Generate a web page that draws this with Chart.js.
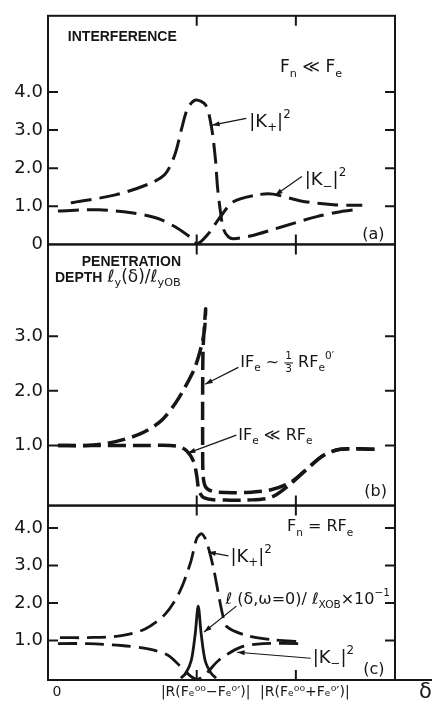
<!DOCTYPE html>
<html>
<head>
<meta charset="utf-8">
<script src="https://cdn.jsdelivr.net/npm/chart.js@4"></script>
<style>
  html, body { margin: 0; padding: 0; background: #fff; }
  canvas { display: block; }
</style>
</head>
<body>
<canvas id="fig" width="432" height="707"></canvas>
<script>
// delta axis, in arbitrary units (the two resonance ticks sit at 1.5 and 2.5)
const xTicks = [0, 1.5, 2.5];
const xTickLabels = ['0', '|R(Fₑ⁰⁰−Fₑ⁰′)|', '|R(Fₑ⁰⁰+Fₑ⁰′)|'];

const yTicksA = [0, 1, 2, 3, 4];
const yTicksB = [1, 2, 3];
const yTicksC = [1, 2, 3, 4];

// (a) interference, Fn << Fe
const aKplusX  = [0.23, 0.68, 1.01, 1.18, 1.28, 1.35, 1.41, 1.49, 1.59, 1.65, 1.69, 1.71, 1.74, 1.77, 1.82, 1.87, 2.04, 2.37, 2.71, 2.95, 3.10];
const aKplusY  = [1.09, 1.30, 1.58, 1.84, 2.36, 3.06, 3.58, 3.79, 3.66, 3.06, 2.20, 1.50, 0.85, 0.40, 0.20, 0.15, 0.22, 0.47, 0.73, 0.86, 0.91];
const aKminusX = [0.10, 0.51, 0.84, 1.11, 1.31, 1.45, 1.51, 1.62, 1.74, 1.87, 2.11, 2.27, 2.55, 2.88, 3.17];
const aKminusY = [0.88, 0.91, 0.83, 0.68, 0.42, 0.16, 0.02, 0.29, 0.73, 1.12, 1.30, 1.32, 1.14, 1.04, 1.03];

// (b) penetration depth ly(delta)/lyOB
const bThirdX = [0.10, 0.40, 0.68, 0.94, 1.14, 1.28, 1.38, 1.48, 1.55, 1.58, 1.59, 1.565, 1.56, 1.56, 1.565, 1.59, 1.66, 1.80, 2.00, 2.25, 2.45, 2.60, 2.78, 2.95, 3.32];
const bThirdY = [1.00, 1.00, 1.07, 1.22, 1.45, 1.76, 2.06, 2.42, 2.84, 3.14, 3.50, 2.80, 2.00, 1.00, 0.45, 0.24, 0.16, 0.14, 0.14, 0.19, 0.33, 0.55, 0.82, 0.93, 0.93];
const bMuchX  = [0.10, 0.50, 1.00, 1.30, 1.40, 1.47, 1.50, 1.52, 1.56, 1.65, 1.80, 2.00, 2.25, 2.45, 2.60, 2.78, 2.95, 3.32];
const bMuchY  = [1.00, 1.00, 1.00, 0.99, 0.90, 0.70, 0.45, 0.20, 0.06, 0.01, 0.00, 0.00, 0.05, 0.30, 0.55, 0.82, 0.93, 0.93];

// (c) Fn = RFe
const cKplusX  = [0.12, 0.40, 0.74, 0.98, 1.18, 1.33, 1.44, 1.50, 1.55, 1.60, 1.67, 1.72, 1.76, 1.80, 2.01, 2.27, 2.55];
const cKplusY  = [1.08, 1.08, 1.13, 1.31, 1.70, 2.31, 3.10, 3.72, 3.85, 3.63, 2.92, 2.23, 1.71, 1.38, 1.13, 1.02, 0.97];
const cKminusX = [0.10, 0.40, 0.74, 1.01, 1.21, 1.34, 1.45, 1.51, 1.60, 1.72, 1.94, 2.17, 2.55];
const cKminusY = [0.92, 0.92, 0.87, 0.78, 0.61, 0.30, 0.03, -0.03, 0.13, 0.47, 0.82, 0.92, 0.92];
const cLX = [1.34, 1.39, 1.445, 1.485, 1.515, 1.545, 1.585, 1.645, 1.695];
const cLY = [0.00, 0.13, 0.47, 1.18, 1.92, 1.18, 0.47, 0.13, 0.00];

const ink = '#161616';
const mathFont = '"DejaVu Sans"';
const capsFont = '"Liberation Sans"';

const pts = (xs, ys) => xs.map((x, i) => ({ x: x, y: ys[i] }));

function curve(xs, ys, axis, width, dash) {
    return {
        data: pts(xs, ys),
        yAxisID: axis,
        borderColor: ink,
        borderWidth: width,
        borderDash: dash,
        borderCapStyle: 'butt',
        tension: 0.3,
        pointRadius: 0,
        fill: false
    };
}

function yAxis(min, max, weight, ticks) {
    return {
        type: 'linear',
        position: 'left',
        stack: 'panels',
        stackWeight: weight,
        min: min,
        max: max,
        afterBuildTicks: s => { s.ticks = ticks.map(v => ({ value: v })); },
        afterFit: s => { s.width = 48; },
        grid: { display: false, drawTicks: false },
        border: { display: false },
        ticks: {
            callback: v => v === 0 ? '0' : v.toFixed(1),
            font: { family: mathFont, size: 18 },
            color: ink,
            padding: 5
        }
    };
}

// texts and pointer arrows, placed in the data units of each panel
const notes = [
    { axis: 'ya', x: 0.20, y: 5.43, font: capsFont, size: 14, weight: 'bold', parts: [['INTERFERENCE']] },
    { axis: 'ya', x: 2.34, y: 4.63, size: 17, parts: [['F'], ['n', 'sub'], [' ≪ F'], ['e', 'sub']] },
    { axis: 'ya', x: 2.03, y: 3.21, size: 18, parts: [['|K'], ['+', 'sub'], ['|'], ['2', 'sup']] },
    { axis: 'ya', x: 2.59, y: 1.68, size: 18, parts: [['|K'], ['−', 'sub'], ['|'], ['2', 'sup']] },
    { axis: 'ya', x: 3.17, y: 0.26, size: 16, parts: [['(a)']] },

    { axis: 'yb', x: 0.34, y: 4.36, font: capsFont, size: 14, weight: 'bold', parts: [['PENETRATION']] },
    { axis: 'yb', x: 0.07, y: 4.07, font: capsFont, size: 14, weight: 'bold', parts: [['DEPTH']] },
    { axis: 'yb', x: 0.60, y: 4.07, size: 17, parts: [['ℓ'], ['y', 'sub'], ['(δ)/'], ['ℓ'], ['yOB', 'sub']] },
    { axis: 'yb', x: 1.94, y: 2.52, size: 16, parts: [['IF'], ['e', 'sub'], [' ~ '], ['1/3', 'frac'], [' RF'], ['e', 'sub'], ['0′', 'sup']] },
    { axis: 'yb', x: 1.92, y: 1.18, size: 16, parts: [['IF'], ['e', 'sub'], [' ≪ RF'], ['e', 'sub']] },
    { axis: 'yb', x: 3.19, y: 0.15, size: 16, parts: [['(b)']] },

    { axis: 'yc', x: 2.41, y: 4.02, size: 16, parts: [['F'], ['n', 'sub'], [' = RF'], ['e', 'sub']] },
    { axis: 'yc', x: 1.84, y: 3.23, size: 18, parts: [['|K'], ['+', 'sub'], ['|'], ['2', 'sup']] },
    { axis: 'yc', x: 1.79, y: 2.10, size: 16, parts: [['ℓ (δ,ω=0)/ ℓ'], ['XOB', 'sub'], ['×10'], ['−1', 'sup']] },
    { axis: 'yc', x: 2.67, y: 0.53, size: 18, parts: [['|K'], ['−', 'sub'], ['|'], ['2', 'sup']] },
    { axis: 'yc', x: 3.18, y: 0.21, size: 16, parts: [['(c)']] }
];

const arrows = [
    { axis: 'ya', from: [2.00, 3.31], to: [1.655, 3.13] },
    { axis: 'ya', from: [2.56, 1.78], to: [2.29, 1.29] },
    { axis: 'yb', from: [1.92, 2.43], to: [1.584, 2.12] },
    { axis: 'yb', from: [1.90, 1.19], to: [1.41, 0.86] },
    { axis: 'yc', from: [1.82, 3.26], to: [1.615, 3.36] },
    { axis: 'yc', from: [1.90, 1.92], to: [1.574, 1.23] },
    { axis: 'yc', from: [2.65, 0.53], to: [1.907, 0.69] }
];

function drawRich(ctx, x, y, note) {
    const fam = note.font || mathFont;
    const size = note.size;
    const w8 = note.weight || 'normal';
    let cx = x;
    for (const [text, kind] of note.parts) {
        const s = kind ? size * 0.66 : size;
        ctx.font = w8 + ' ' + s + 'px ' + fam;
        if (kind === 'frac') {
            const [n, d] = text.split('/');
            const wn = ctx.measureText(n).width, wd = ctx.measureText(d).width;
            const w = Math.max(wn, wd) + 2;
            ctx.fillText(n, cx + (w - wn) / 2, y - size * 0.36);
            ctx.fillText(d, cx + (w - wd) / 2, y + size * 0.40);
            ctx.fillRect(cx, y, w, 1);
            cx += w;
            continue;
        }
        const dy = kind === 'sub' ? size * 0.34 : kind === 'sup' ? -size * 0.40 : 0;
        ctx.fillText(text, cx, y + dy);
        cx += ctx.measureText(text).width;
    }
}

const framePlugin = {
    id: 'frame',
    afterDatasetsDraw(chart) {
        const { ctx, chartArea: area, scales } = chart;
        const xs = scales.x;
        ctx.save();
        ctx.strokeStyle = ink;
        ctx.fillStyle = ink;
        ctx.lineWidth = 2;
        for (const id of ['ya', 'yb', 'yc']) {
            const s = scales[id];
            ctx.strokeRect(area.left, s.top, area.right - area.left, s.bottom - s.top);
            ctx.beginPath();
            for (const t of s.ticks) {
                if (t.value <= s.min || t.value >= s.max) continue;
                const py = s.getPixelForValue(t.value);
                ctx.moveTo(area.left, py); ctx.lineTo(area.left + 10, py);
                ctx.moveTo(area.right, py); ctx.lineTo(area.right - 10, py);
            }
            for (const v of xTicks) {
                if (v <= xs.min) continue;
                const px = xs.getPixelForValue(v);
                ctx.moveTo(px, s.top); ctx.lineTo(px, s.top + 10);
                ctx.moveTo(px, s.bottom); ctx.lineTo(px, s.bottom - 10);
            }
            ctx.stroke();
        }
        // the delta axis runs on past the frame
        ctx.beginPath();
        ctx.moveTo(area.right, area.bottom);
        ctx.lineTo(chart.width, area.bottom);
        ctx.stroke();
        ctx.textBaseline = 'middle';
        ctx.textAlign = 'left';
        ctx.font = '21px ' + mathFont;
        ctx.fillText('δ', area.right + 24, area.bottom + 13);

        for (const n of notes) {
            const s = scales[n.axis];
            drawRich(ctx, xs.getPixelForValue(n.x), s.getPixelForValue(n.y), n);
        }

        ctx.lineWidth = 1.2;
        for (const a of arrows) {
            const s = scales[a.axis];
            const x0 = xs.getPixelForValue(a.from[0]), y0 = s.getPixelForValue(a.from[1]);
            const x1 = xs.getPixelForValue(a.to[0]), y1 = s.getPixelForValue(a.to[1]);
            const ang = Math.atan2(y1 - y0, x1 - x0);
            ctx.beginPath();
            ctx.moveTo(x0, y0);
            ctx.lineTo(x1, y1);
            ctx.stroke();
            ctx.beginPath();
            ctx.moveTo(x1, y1);
            ctx.lineTo(x1 - 8 * Math.cos(ang - 0.32), y1 - 8 * Math.sin(ang - 0.32));
            ctx.lineTo(x1 - 8 * Math.cos(ang + 0.32), y1 - 8 * Math.sin(ang + 0.32));
            ctx.closePath();
            ctx.fill();
        }
        ctx.restore();
    }
};

new Chart(document.getElementById('fig'), {
    type: 'line',
    data: {
        datasets: [
            curve(aKplusX, aKplusY, 'ya', 3, [21, 8]),
            curve(aKminusX, aKminusY, 'ya', 3, [21, 8]),
            curve(bThirdX, bThirdY, 'yb', 3.5, [18, 7]),
            curve(bMuchX, bMuchY, 'yb', 3.5, [18, 7]),
            curve(cKplusX, cKplusY, 'yc', 2.8, [19, 8]),
            curve(cKminusX, cKminusY, 'yc', 2.8, [19, 8]),
            curve(cLX, cLY, 'yc', 2.8, [])
        ]
    },
    options: {
        responsive: false,
        animation: false,
        layout: { padding: { top: 6, right: 37, left: 0, bottom: 0 } },
        plugins: { legend: { display: false }, tooltip: { enabled: false } },
        scales: {
            x: {
                type: 'linear',
                min: 0,
                max: 3.5,
                afterBuildTicks: s => { s.ticks = xTicks.map(v => ({ value: v })); },
                afterFit: s => { s.height = 27; },
                grid: { display: false, drawTicks: false },
                border: { display: false },
                ticks: {
                    callback: (v, i) => xTickLabels[i],
                    font: { family: mathFont, size: 14 },
                    color: ink,
                    maxRotation: 0,
                    autoSkip: false,
                    padding: 4,
                    labelOffset: 9
                }
            },
            yc: yAxis(-0.05, 4.6, 177, yTicksC),
            yb: yAxis(-0.1, 4.68, 265, yTicksB),
            ya: yAxis(0, 6, 232, yTicksA)
        }
    },
    plugins: [framePlugin]
});
</script>
</body>
</html>
